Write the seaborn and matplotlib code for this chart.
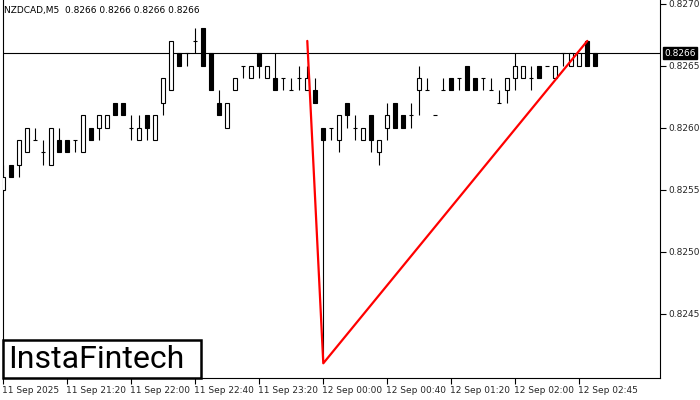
import numpy as np
import pandas as pd
import matplotlib
matplotlib.use("Agg")
import matplotlib.pyplot as plt
import matplotlib.transforms as mtransforms
from matplotlib.patches import Rectangle
import seaborn as sns

# ---------------- data ----------------
opens = [0.8255, 0.8257, 0.8257, 0.8258, 0.8259, 0.8258, 0.8257, 0.8259, 0.8259, 0.8259,
         0.8258, 0.8260, 0.8260, 0.8260, 0.8262, 0.8262, 0.8260, 0.8259, 0.8261, 0.8259,
         0.8262, 0.8263, 0.8266, 0.8266, 0.8267, 0.8268, 0.8266, 0.8262, 0.8260, 0.8263,
         0.8265, 0.8264, 0.8266, 0.8264, 0.8264, 0.8264, 0.8263, 0.8264, 0.8263, 0.8263,
         0.8260, 0.8260, 0.8259, 0.8262, 0.8260, 0.8259, 0.8261, 0.8258, 0.8260, 0.8262,
         0.8261, 0.8261, 0.8263, 0.8263, 0.8261, 0.8263, 0.8264, 0.8264, 0.8265, 0.8264,
         0.8264, 0.8263, 0.8262, 0.8263, 0.8264, 0.8264, 0.8264, 0.8265, 0.8265, 0.8264,
         0.8266, 0.8265, 0.8265, 0.8267, 0.8266]
highs = [0.8257, 0.8257, 0.8259, 0.8260, 0.8260, 0.8259, 0.8260, 0.8260, 0.8259, 0.8259,
         0.8261, 0.8260, 0.8261, 0.8261, 0.8262, 0.8262, 0.8261, 0.8261, 0.8261, 0.8261,
         0.8264, 0.8267, 0.8266, 0.8266, 0.8268, 0.8268, 0.8266, 0.8263, 0.8262, 0.8264,
         0.8265, 0.8265, 0.8266, 0.8265, 0.8266, 0.8264, 0.8264, 0.8265, 0.8265, 0.8264,
         0.8260, 0.8260, 0.8261, 0.8262, 0.8261, 0.8260, 0.8261, 0.8259, 0.8262, 0.8262,
         0.8261, 0.8262, 0.8265, 0.8264, 0.8261, 0.8264, 0.8264, 0.8264, 0.8265, 0.8264,
         0.8264, 0.8264, 0.8263, 0.8264, 0.8266, 0.8265, 0.8265, 0.8265, 0.8265, 0.8265,
         0.8266, 0.8266, 0.8266, 0.8267, 0.8266]
lows = [0.8255, 0.8256, 0.8256, 0.8258, 0.8259, 0.8257, 0.8257, 0.8258, 0.8258, 0.8258,
        0.8258, 0.8259, 0.8259, 0.8260, 0.8261, 0.8261, 0.8259, 0.8259, 0.8259, 0.8259,
        0.8261, 0.8263, 0.8265, 0.8265, 0.8266, 0.8265, 0.8263, 0.8261, 0.8260, 0.8263,
        0.8264, 0.8264, 0.8264, 0.8264, 0.8263, 0.8263, 0.8263, 0.8263, 0.8263, 0.8262,
        0.8241, 0.8259, 0.8258, 0.8260, 0.8259, 0.8259, 0.8258, 0.8257, 0.8259, 0.8260,
        0.8260, 0.8260, 0.8261, 0.8263, 0.8261, 0.8263, 0.8263, 0.8263, 0.8263, 0.8263,
        0.8263, 0.8263, 0.8262, 0.8262, 0.8263, 0.8264, 0.8263, 0.8264, 0.8265, 0.8264,
        0.8265, 0.8265, 0.8265, 0.8265, 0.8265]
closes = [0.8256, 0.8256, 0.8259, 0.8260, 0.8259, 0.8258, 0.8260, 0.8258, 0.8258, 0.8259,
          0.8261, 0.8259, 0.8261, 0.8261, 0.8261, 0.8261, 0.8260, 0.8260, 0.8260, 0.8261,
          0.8264, 0.8267, 0.8265, 0.8266, 0.8267, 0.8265, 0.8263, 0.8261, 0.8262, 0.8264,
          0.8265, 0.8265, 0.8265, 0.8265, 0.8263, 0.8264, 0.8263, 0.8264, 0.8264, 0.8262,
          0.8259, 0.8260, 0.8261, 0.8261, 0.8260, 0.8260, 0.8259, 0.8259, 0.8261, 0.8260,
          0.8260, 0.8261, 0.8264, 0.8263, 0.8261, 0.8263, 0.8263, 0.8264, 0.8263, 0.8263,
          0.8264, 0.8263, 0.8262, 0.8264, 0.8265, 0.8265, 0.8264, 0.8264, 0.8265, 0.8265,
          0.8266, 0.8266, 0.8266, 0.8265, 0.8265]

time_tick_idx = [0, 8, 16, 24, 32, 40, 48, 56, 64, 72]
time_tick_labels = ["11 Sep 2025", "11 Sep 21:20", "11 Sep 22:00", "11 Sep 22:40",
                    "11 Sep 23:20", "12 Sep 00:00", "12 Sep 00:40", "12 Sep 01:20",
                    "12 Sep 02:00", "12 Sep 02:45"]
price_ticks = [0.8245, 0.8250, 0.8255, 0.8260, 0.8265, 0.8270]
current_price = 0.8266

pattern_idx = [38, 40, 73]
pattern_price = [0.8267, 0.8241, 0.8267]

title_text = "NZDCAD,M5  0.8266 0.8266 0.8266 0.8266"
logo_text = "InstaFintech"

# ---------------- plot ----------------
sns.set_theme(style="white")
plt.rcParams["font.family"] = ["DejaVu Sans"]

fig = plt.figure(figsize=(7, 4), dpi=100)
fig.patch.set_facecolor("white")
ax = fig.add_axes([2.7 / 700, 22 / 400, 657.3 / 700, 378 / 400])
ax.set_facecolor("white")

df = pd.DataFrame({"o": opens, "h": highs, "l": lows, "c": closes})
df["i"] = np.arange(len(df))

lw = 0.8
# wicks
ax.vlines(df["i"], df["l"], df["h"], color="black", lw=lw, zorder=2)
# bodies
bw = 0.5
for i, o, c in zip(df["i"], df["o"], df["c"]):
    if abs(o - c) < 1e-9:
        ax.hlines(o, i - bw / 2, i + bw / 2, color="black", lw=lw, zorder=3)
    else:
        fc = "white" if c > o else "black"
        ax.add_patch(Rectangle((i - bw / 2, min(o, c)), bw, abs(c - o),
                               facecolor=fc, edgecolor="black", lw=lw, zorder=3))

# current price line
ax.axhline(current_price, color="black", lw=lw, zorder=1)

# pattern line
sns.lineplot(x=pattern_idx, y=pattern_price, color="red", lw=1.6, ax=ax,
             legend=False, zorder=4, sort=False)

ax.set_xlim(-0.075, 82.09)
ax.set_ylim(0.8239815, 0.8270298)

# axes styling
ax.spines["top"].set_visible(False)
for s in ["right", "bottom", "left"]:
    ax.spines[s].set_visible(True)
    ax.spines[s].set_color("black")
    ax.spines[s].set_linewidth(lw)

ax.yaxis.tick_right()
ax.set_yticks(price_ticks)
ax.set_yticklabels([f"{p:.4f}" for p in price_ticks])
ax.tick_params(axis="y", right=True, left=False, length=4, width=lw, color="black",
               labelsize=6.5, pad=2, direction="out")

ax.set_xticks(time_tick_idx)
ax.set_xticklabels(time_tick_labels, ha="left")
ax.tick_params(axis="x", bottom=True, length=4, width=lw, color="black",
               labelsize=6.5, pad=1.5, direction="out")
offset = mtransforms.ScaledTranslation(-1 / 100, 0, fig.dpi_scale_trans)
for lbl in ax.get_xticklabels():
    lbl.set_horizontalalignment("left")
    lbl.set_transform(lbl.get_transform() + offset)

ax.set_xlabel("")
ax.set_ylabel("")
ax.grid(False)

# current price tag
trans = mtransforms.blended_transform_factory(ax.transAxes, ax.transData)
ax.text(1.0 + 4 / 657, current_price, f"{current_price:.4f}", transform=trans,
        ha="left", va="center", color="white", fontsize=6.5, zorder=6,
        bbox=dict(boxstyle="square,pad=0.15", facecolor="black", edgecolor="black"),
        clip_on=False)

# title
fig.text(4 / 700, 1 - 10 / 400, title_text, ha="left", va="center",
         fontsize=6.5, color="black")

# logo
fig.patches.append(Rectangle((2.5 / 700, 22 / 400), 198 / 700, 38 / 400,
                             transform=fig.transFigure, facecolor="white",
                             edgecolor="black", lw=1.8, zorder=10))
fig.text(96 / 700, 1 - 359 / 400, logo_text, ha="center", va="center",
         fontsize=23, color="black", family=["Roboto", "DejaVu Sans"],
         weight="normal", zorder=11)

fig.savefig("out.png", dpi=100, facecolor="white")
